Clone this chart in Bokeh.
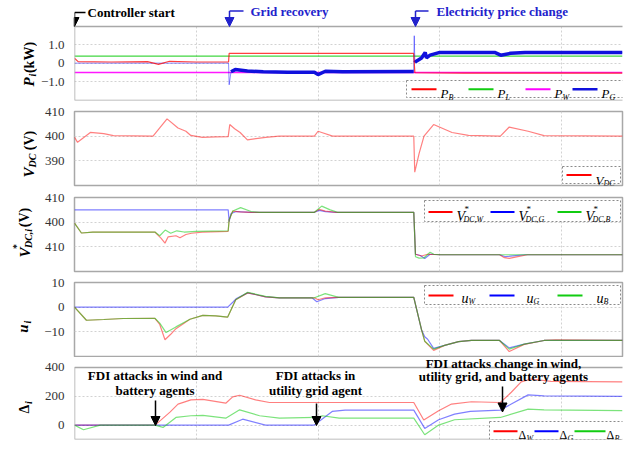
import math
from bokeh.plotting import figure
from bokeh.layouts import column, row
from bokeh.models import (Range1d, FixedTicker, Label, Arrow, NormalHead, BoxAnnotation)
from bokeh.embed import file_html
from bokeh.resources import INLINE

# ---------------- data (time in s) ----------------
x_ticks = [0, 1, 2, 2.42, 3, 4]
x_tick_labels = {0: "0", 1: "1.0", 2: "2.0", 2.42: "Time (s)", 3: "3.0", 4: "4.0"}

# Panel 1: powers (kW)
t_pb = [0, 0.03, 0.3, 0.6, 0.69, 0.78, 1.0, 1.265, 1.27, 2.785, 2.795, 3.2, 4.5]
p_b = [0.28, 0.1, 0.08, 0.1, -0.05, 0.12, 0.08, 0.08, 0.55, 0.55, -0.5, -0.52, -0.52]
t_pl = [0, 4.5]
p_l = [0.4, 0.4]
t_pw = [0, 4.5]
p_w = [-0.48, -0.48]
t_pg = [0, 1.265, 1.27, 1.285, 1.32, 1.42, 1.55, 1.75, 1.97, 2.0, 2.06, 2.2, 2.785, 2.79,
        2.795, 2.8, 2.85, 2.88, 2.89, 2.92, 3.0, 3.45, 3.5, 3.58, 3.7, 4.5]
p_g = [0.02, 0.02, -1.15, -0.45, -0.33, -0.4, -0.45, -0.47, -0.47, -0.6, -0.42, -0.45, -0.43, 1.5,
       0.05, 0.1, 0.3, 0.6, 0.3, 0.45, 0.6, 0.6, 0.45, 0.55, 0.6, 0.6]
p_ticks = {-1: "\u22121.0", 0: "0", 1: "1.0"}

# Panel 2: DC voltage (V)
t_vdc = [0, 0.025, 0.13, 0.24, 0.32, 0.645, 0.76, 0.85, 0.915, 0.955, 1.05, 1.16, 1.262, 1.275,
         1.315, 1.36, 1.42, 1.57, 1.68, 1.97, 2.0, 2.03, 2.12, 2.786, 2.794, 2.83, 2.87, 2.949,
         3.1, 3.235, 3.497, 3.57, 3.725, 3.856, 4.5]
v_dc = [399.6, 397.5, 401.5, 401, 400.2, 400, 407, 403.3, 402, 400.3, 399.5, 399.7, 399.8, 404.7,
        403, 401.5, 398.5, 399.5, 400, 400, 402, 401.5, 400, 400, 385.4, 393, 400, 404.7,
        401.5, 400.3, 400, 403.7, 402, 400.2, 400]
vdc_ticks = {390: "390", 400: "400", 410: "410"}

# Panel 3: voltage references (V)
t_vw = [0, 0.057, 0.15, 0.66, 0.71, 0.743, 0.768, 0.833, 0.866, 0.915, 0.96, 1.05, 1.262, 1.27,
        1.3, 1.36, 1.45, 1.97, 2.01, 2.06, 2.15, 2.786, 2.8, 2.85, 2.9, 3.0, 3.49, 3.53, 3.57,
        3.64, 3.72, 4.5]
v_w = [399.6, 395.6, 396, 396, 393.5, 391.5, 394, 394.5, 393.7, 395, 395.5, 396, 396.3, 401,
       404.5, 404.2, 404, 404, 405.2, 404.5, 404, 404, 387, 386.3, 387, 386.8, 386.8, 385.6,
       385.3, 386, 386.8, 386.8]
t_vg = [0, 1.262, 1.27, 1.285, 1.33, 1.45, 1.97, 2.01, 2.06, 2.15, 2.786, 2.8, 2.84, 2.876,
        2.92, 3.0, 3.49, 3.54, 3.6, 3.7, 4.5]
v_g = [405, 405, 400.2, 403.5, 404.3, 404, 404, 404.8, 404.3, 404, 404, 387, 386.5, 385.3,
       387, 386.8, 386.8, 386, 386.3, 386.8, 386.8]
t_vb = [0, 0.057, 0.15, 0.66, 0.7, 0.745, 0.79, 0.84, 0.9, 1.0, 1.262, 1.27, 1.3, 1.364, 1.45,
        1.52, 1.97, 2.03, 2.1, 2.16, 2.786, 2.8, 2.83, 2.868, 2.92, 2.95, 3.0, 4.5]
v_b = [399.6, 395.6, 396, 396, 394.5, 396.8, 395.5, 396.5, 396, 396.3, 396.5, 401, 404.5,
       405.9, 404.3, 404, 404, 406.5, 405, 404, 404, 386, 385.4, 385.5, 387.8, 387, 386.8, 386.8]
vref_ticks = {390: "410", 400: "400", 410: "410"}

# Panel 4: control inputs u_i
t_uw = [0, 0.098, 0.24, 0.4, 0.66, 0.7, 0.743, 0.79, 0.833, 0.948, 1.054, 1.16, 1.258, 1.324,
        1.422, 1.569, 1.683, 1.97, 2.0, 2.06, 2.17, 2.786, 2.851, 2.876, 2.949, 3.039, 3.154,
        3.26, 3.49, 3.57, 3.693, 3.856, 3.95, 4.5]
u_w = [0, -5.3, -5, -4.6, -4.5, -7, -13.2, -11, -8.7, -4.9, -3.3, -3.5, -4, 3, 5.8, 4.2, 3.8,
       3.8, 3, 3.8, 4, 4, -9.4, -13.8, -17.5, -15.5, -14, -13.5, -13.5, -18, -15.1, -13.5,
       -13.3, -13.5]
t_ug = [0, 1.258, 1.3, 1.33, 1.422, 1.569, 1.683, 1.95, 1.99, 2.06, 2.17, 2.786, 2.851, 2.876,
        2.9, 2.949, 3.039, 3.154, 3.26, 3.49, 3.57, 3.693, 3.856, 4.5]
u_g = [0, 0, 2, 3.5, 5.8, 4.2, 3.8, 3.8, 2.2, 3.5, 4, 4, -9.4, -12, -13, -16.7, -15.5, -14,
       -13.5, -13.5, -16.5, -15, -13.5, -13.5]
t_ub = [0, 0.098, 0.24, 0.4, 0.66, 0.7, 0.752, 0.833, 0.948, 1.054, 1.16, 1.258, 1.324, 1.422,
        1.569, 1.683, 1.97, 2.059, 2.17, 2.786, 2.851, 2.876, 2.949, 3.039, 3.154, 3.26, 3.49,
        3.57, 3.693, 3.856, 4.5]
u_b = [0, -5.3, -5, -4.6, -4.5, -6.5, -10.3, -8, -4.9, -3.3, -3.5, -4, 3, 6, 4.4, 3.8, 3.8,
       5.5, 4, 4, -9.4, -13.8, -17, -15.5, -14, -13.5, -13.5, -17, -15, -13.5, -13.5]
u_ticks = {-10: "\u221210", 0: "0", 10: "10"}

# Panel 5: FDI estimates Delta_i
t_dw = [0, 0.662, 0.784, 0.85, 0.956, 1.054, 1.242, 1.299, 1.356, 1.487, 1.601, 2.786, 2.868,
        2.99, 3.096, 3.26, 3.497, 3.587, 3.668, 3.75, 3.913, 4.5]
d_w = [0, 0, 90, 146, 175, 178, 152, 196, 207, 175, 157, 157, 35, 100, 146, 162, 157, 228, 300,
       320, 303, 300]
t_dg = [0, 1.266, 1.381, 1.569, 1.969, 2.116, 2.222, 2.786, 2.876, 2.99, 3.121, 3.25, 3.497,
        3.587, 3.725, 3.856, 4.5]
d_g = [0, 0, 41, 0, 0, 95, 104, 104, -23, 37, 76, 95, 104, 146, 210, 203, 200]
t_db = [0, 0.074, 0.212, 0.662, 0.727, 0.833, 0.956, 1.054, 1.242, 1.356, 1.52, 1.683, 1.98,
        2.034, 2.173, 2.786, 2.876, 2.99, 3.121, 3.497, 3.725, 3.856, 4.5]
d_b = [0, -32, 0, 0, -16, 53, 65, 67, 48, 106, 65, 48, 53, 65, 48, 48, -67, 0, 37, 53, 111, 106,
       100]
d_ticks = {0: "0", 200: "200", 400: "400"}

# ---------------- styling ----------------
SERIF = "Liberation Serif"
RED, GREEN, BLUE, MAG = "#ff0000", "#11cc11", "#0000ff", "#ff00ff"
STRIP = 37          # width of the left strip holding the rotated y titles
FL = 71             # page x of the panels' frame left
PW = 630 - STRIP    # width of the panel figures
x_range = Range1d(0, 4.5)
OUT = "#a8a8a8"


def make_fig(height, btop, bbot, yr, ticks, xaxis=False, outline=True):
    p = figure(width=PW, height=height, x_range=x_range, y_range=Range1d(*yr),
               output_backend="svg", toolbar_location=None,
               min_border_left=FL - STRIP, min_border_right=8,
               min_border_top=btop, min_border_bottom=bbot,
               x_axis_location="below" if xaxis else None)
    p.outline_line_color = OUT if outline else None
    p.outline_line_width = 1.5
    p.background_fill_color = "white"
    p.border_fill_color = "white"
    ya = p.yaxis[0]
    ya.ticker = FixedTicker(ticks=list(ticks.keys()))
    ya.major_label_overrides = ticks
    ya.axis_line_color = None
    ya.major_tick_line_color = None
    ya.minor_tick_line_color = None
    ya.major_tick_in = 0
    ya.major_tick_out = 0
    ya.major_label_standoff = 10
    ya.major_label_text_font = SERIF
    ya.major_label_text_font_size = "13px"
    ya.major_label_text_color = "#333333"
    p.xgrid.ticker = FixedTicker(ticks=[1, 2, 3, 4])
    p.ygrid.ticker = FixedTicker(ticks=list(ticks.keys()))
    for g in (p.xgrid[0], p.ygrid[0]):
        g.grid_line_color = "#d2d2d2"
        g.grid_line_dash = "2 2"
        g.grid_line_width = 1
    if xaxis:
        xa = p.xaxis[0]
        xa.fixed_location = yr[0]          # drawn at the frame bottom, no space reserved
        xa.ticker = FixedTicker(ticks=x_ticks)
        xa.major_label_overrides = x_tick_labels
        xa.axis_line_color = None
        xa.major_tick_line_color = None
        xa.minor_tick_line_color = None
        xa.major_tick_in = 0
        xa.major_tick_out = 0
        xa.major_label_standoff = 0
        xa.major_label_text_font = SERIF
        xa.major_label_text_font_size = "12px"
        xa.major_label_text_color = "#333333"
    return p


def txt(p, fb, X, Y, text, size=13, style="bold", color="black", align="left",
        baseline="middle", angle=0.0, x0=FL):
    p.add_layout(Label(x=X - x0, y=fb - Y, x_units="screen", y_units="screen", text=text,
                       text_font=SERIF, text_font_size=f"{size}px", text_font_style=style,
                       text_color=color, text_align=align, text_baseline=baseline, angle=angle))


def arrow(p, fb, X1, Y1, X2, Y2, color="black", head=True, width=1.5):
    p.add_layout(Arrow(x_start=X1 - FL, y_start=fb - Y1, x_end=X2 - FL, y_end=fb - Y2,
                       start_units="screen", end_units="screen", line_color=color,
                       line_width=width,
                       end=NormalHead(size=9, fill_color=color, line_color=color) if head else None))


def box(p, fb, X1, Y1, X2, Y2, fill="white", line="#8a8a8a", dash="2 2", lw=1.0):
    p.add_layout(BoxAnnotation(left=X1 - FL, right=X2 - FL, top=fb - Y1, bottom=fb - Y2,
                               left_units="screen", right_units="screen",
                               top_units="screen", bottom_units="screen",
                               fill_color=fill, fill_alpha=1.0 if fill else 0.0,
                               line_color=line, line_dash=dash, line_width=lw,
                               line_alpha=1.0 if line else 0.0))


ANG = math.pi / 2

# ---------------- left strip with rotated y titles ----------------
H = 453
strip = figure(width=STRIP, height=H, x_range=Range1d(0, 1), y_range=Range1d(0, 1),
               output_backend="svg", toolbar_location=None, title=None,
               min_border=0, min_border_left=0, min_border_right=0,
               min_border_top=0, min_border_bottom=0,
               x_axis_location=None, y_axis_location=None)
strip.outline_line_color = None
strip.xgrid.visible = False
strip.ygrid.visible = False
strip.border_fill_color = "white"
strip.background_fill_color = "white"


def ytitle(pieces):
    # pieces: (text, size, style, x centre, y centre) in page pixels
    for text, size, style, X, Y in pieces:
        txt(strip, H, X, Y, text, size=size, style=style, align="center",
            baseline="middle", angle=ANG, x0=0)


ytitle([("P", 15, "bold italic", 28.5, 81.5), ("i", 10, "bold italic", 31.5, 74.5),
        ("(kW)", 14, "bold", 28.5, 57)])
ytitle([("V", 15, "bold italic", 28.5, 172), ("DC", 10, "bold italic", 31.5, 160),
        ("(V)", 14, "bold", 28.5, 140)])
ytitle([("V", 15, "bold italic", 24, 252), ("DC,i", 10, "bold italic", 28, 238),
        ("*", 10, "bold", 16, 246), ("(V)", 14, "bold", 24, 217)])
ytitle([("u", 15, "bold italic", 22.5, 328), ("i", 10, "bold italic", 26.5, 321.5)])
ytitle([("\u0394", 14, "bold", 24, 408.5), ("i", 10, "bold italic", 27.5, 402)])

# ---------------- panel 1 (frame extended to the top edge) ----------------
fb1 = 100
p1 = make_fig(105, 0, 5, (-2, 3.405), p_ticks, outline=False)
p1.line(t_pl, p_l, line_color=GREEN, line_width=1.3, line_alpha=0.8)
p1.line(t_pw, p_w, line_color=MAG, line_width=1.5, line_alpha=0.9)
p1.line(t_pg, p_g, line_color=BLUE, line_width=1, line_alpha=0.45)
p1.line(t_pg[3:13], p_g[3:13], line_color="#1010dd", line_width=3.5)
p1.line(t_pg[14:], p_g[14:], line_color="#1010dd", line_width=3.5)
p1.line(t_pb, p_b, line_color=RED, line_width=1.2, line_alpha=0.75)
box(p1, fb1, 60, -1, 640, 26, fill="white", line=None)          # blank strip above panel
box(p1, fb1, 71, 26, 622, 100, fill=None, line=OUT, dash="solid", lw=1.5)
# top annotations
arrow(p1, fb1, 71, 12, 82, 12, head=False)
arrow(p1, fb1, 71, 12, 71, 26)
txt(p1, fb1, 84, 12, "Controller start", size=13)
BL = "#2222cc"
arrow(p1, fb1, 226, 10.5, 240, 10.5, color=BL, head=False)
arrow(p1, fb1, 226, 10.5, 226, 26, color=BL)
txt(p1, fb1, 247, 11, "Grid recovery", size=13, color=BL)
arrow(p1, fb1, 412, 10.5, 425, 10.5, color=BL, head=False)
arrow(p1, fb1, 412, 10.5, 412, 26, color=BL)
txt(p1, fb1, 433, 11, "Electricity price change", size=13, color=BL)
# legend
box(p1, fb1, 403, 80, 621, 97)
for x0, col, sub, lw in [(408, RED, "B", 2), (465, GREEN, "L", 2), (522, MAG, "W", 2),
                         (569, "#1010dd", "G", 2.5)]:
    arrow(p1, fb1, x0, 88.7, x0 + 25, 88.7, color=col, head=False, width=lw)
    txt(p1, fb1, x0 + 29, 93.3, "P", size=13, style="italic", baseline="alphabetic")
    txt(p1, fb1, x0 + 37, 96.7, sub, size=8, style="italic", baseline="alphabetic")

# ---------------- panel 2 ----------------
fb2 = 185
p2 = make_fig(86, 6, 6, (380, 410), vdc_ticks)
p2.line(t_vdc, v_dc, line_color=RED, line_width=1.2, line_alpha=0.5)
box(p2, fb2, 559, 166, 617, 183)
arrow(p2, fb2, 563, 174.5, 588, 174.5, color=RED, head=False, width=2)
txt(p2, fb2, 592, 179.5, "V", size=13, style="italic", baseline="alphabetic")
txt(p2, fb2, 600, 182.5, "DC", size=8, style="italic", baseline="alphabetic")

# ---------------- panel 3 ----------------
fb3 = 271
p3 = make_fig(85, 6, 5, (380, 410), vref_ticks)
p3.line(t_vg, v_g, line_color=BLUE, line_width=1.2, line_alpha=0.5)
p3.line(t_vw, v_w, line_color=RED, line_width=1.2, line_alpha=0.5)
p3.line(t_vb, v_b, line_color=GREEN, line_width=1.2, line_alpha=0.55)
box(p3, fb3, 421, 200, 617, 221)
for x0, col, sub in [(425, RED, "DC,W"), (487, BLUE, "DC,G"), (554, GREEN, "DC,B")]:
    arrow(p3, fb3, x0, 211.5, x0 + 24, 211.5, color=col, head=False, width=2)
    txt(p3, fb3, x0 + 28, 215.5, "V", size=14, style="italic", baseline="alphabetic")
    txt(p3, fb3, x0 + 36, 208.5, "*", size=9, style="normal", baseline="alphabetic")
    txt(p3, fb3, x0 + 35, 218.5, sub, size=8, style="italic", baseline="alphabetic")

# ---------------- panel 4 ----------------
fb4 = 356
p4 = make_fig(81, 6, 1, (-20, 10), u_ticks)
p4.line(t_ug, u_g, line_color=BLUE, line_width=1.2, line_alpha=0.5)
p4.line(t_uw, u_w, line_color=RED, line_width=1.2, line_alpha=0.5)
p4.line(t_ub, u_b, line_color=GREEN, line_width=1.2, line_alpha=0.55)
box(p4, fb4, 421, 285, 617, 304)
for x0, xt, col, sub in [(425, 458, RED, "W"), (486, 523, BLUE, "G"), (554, 593, GREEN, "B")]:
    arrow(p4, fb4, x0, 295, x0 + 25, 295, color=col, head=False, width=2)
    txt(p4, fb4, xt, 298.3, "u", size=14, style="italic", baseline="alphabetic")
    txt(p4, fb4, xt + 7, 300.5, sub, size=8, style="italic", baseline="alphabetic")

# ---------------- panel 5 (frame extended up into the gap) ----------------
fb5 = 439
p5 = make_fig(96, 0, 14, (-100, 469.4), d_ticks, xaxis=True, outline=False)
p5.line(t_dw, d_w, line_color=RED, line_width=1.2, line_alpha=0.5)
p5.line(t_dg, d_g, line_color=BLUE, line_width=1.2, line_alpha=0.5)
p5.line(t_db, d_b, line_color=GREEN, line_width=1.2, line_alpha=0.55)
box(p5, fb5, 60, 350, 640, 367, fill="white", line=None)
box(p5, fb5, 71, 367, 622, 439, fill=None, line=OUT, dash="solid", lw=1.5)
txt(p5, fb5, 151.5, 375, "FDI attacks in wind and", align="center")
txt(p5, fb5, 151.5, 389.5, "battery agents", align="center")
arrow(p5, fb5, 152, 400, 152, 425)
txt(p5, fb5, 312, 375, "FDI attacks in", align="center")
txt(p5, fb5, 312, 389.5, "utility grid agent", align="center")
arrow(p5, fb5, 313, 403, 313, 425)
txt(p5, fb5, 500, 362.5, "FDI attacks change in wind,", align="center")
txt(p5, fb5, 500, 376, "utility grid, and battery agents", align="center")
arrow(p5, fb5, 499, 386, 499, 411.5)
box(p5, fb5, 486, 421, 621, 439)
for x0, xt, col, sub in [(490, 515, RED, "W"), (531, 556, BLUE, "G"), (571, 603, GREEN, "B")]:
    arrow(p5, fb5, x0, 430.7, xt - 1, 430.7, color=col, head=False, width=2)
    txt(p5, fb5, xt, 434.5, "\u0394", size=12, style="normal", baseline="alphabetic")
    txt(p5, fb5, xt + 8, 437.5, sub, size=8, style="italic", baseline="alphabetic")

layout = row(strip, column(p1, p2, p3, p4, p5, spacing=0), spacing=0)
open("out.html", "w").write(file_html(layout, INLINE))
